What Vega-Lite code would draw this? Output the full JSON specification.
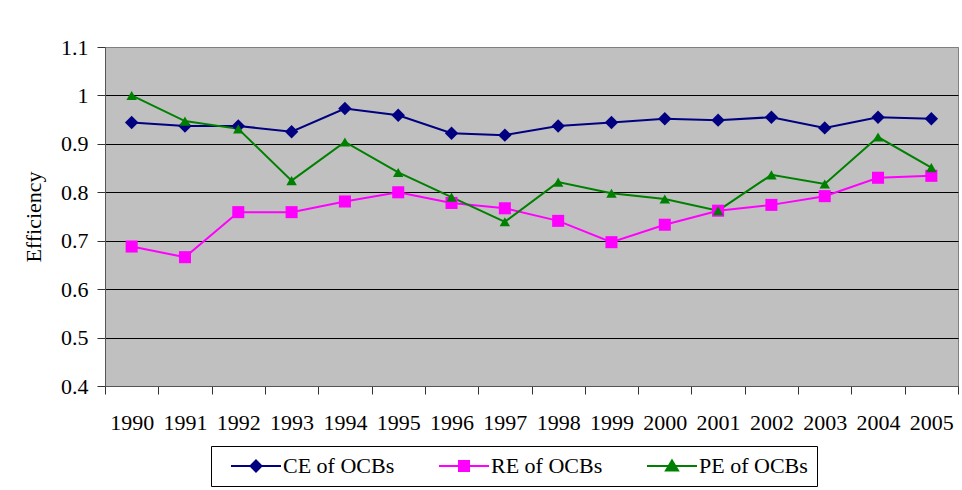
{
  "$schema": "https://vega.github.io/schema/vega-lite/v6.json",
  "width": 853,
  "height": 339,
  "autosize": {"type": "none"},
  "padding": {"left": 105, "top": 47, "right": 4, "bottom": 104},
  "background": "white",
  "config": {
    "view": {"fill": "#C0C0C0", "stroke": "#808080", "strokeWidth": 1},
    "font": "Liberation Serif"
  },
  "data": {
    "values": [
      {"year": "1990", "series": "CE of OCBs", "value": 0.944},
      {"year": "1991", "series": "CE of OCBs", "value": 0.937},
      {"year": "1992", "series": "CE of OCBs", "value": 0.937},
      {"year": "1993", "series": "CE of OCBs", "value": 0.925},
      {"year": "1994", "series": "CE of OCBs", "value": 0.973},
      {"year": "1995", "series": "CE of OCBs", "value": 0.959},
      {"year": "1996", "series": "CE of OCBs", "value": 0.922},
      {"year": "1997", "series": "CE of OCBs", "value": 0.918},
      {"year": "1998", "series": "CE of OCBs", "value": 0.937},
      {"year": "1999", "series": "CE of OCBs", "value": 0.944},
      {"year": "2000", "series": "CE of OCBs", "value": 0.952},
      {"year": "2001", "series": "CE of OCBs", "value": 0.949},
      {"year": "2002", "series": "CE of OCBs", "value": 0.955},
      {"year": "2003", "series": "CE of OCBs", "value": 0.933},
      {"year": "2004", "series": "CE of OCBs", "value": 0.955},
      {"year": "2005", "series": "CE of OCBs", "value": 0.952},
      {"year": "1990", "series": "RE of OCBs", "value": 0.688},
      {"year": "1991", "series": "RE of OCBs", "value": 0.666},
      {"year": "1992", "series": "RE of OCBs", "value": 0.759},
      {"year": "1993", "series": "RE of OCBs", "value": 0.759},
      {"year": "1994", "series": "RE of OCBs", "value": 0.781},
      {"year": "1995", "series": "RE of OCBs", "value": 0.8},
      {"year": "1996", "series": "RE of OCBs", "value": 0.778},
      {"year": "1997", "series": "RE of OCBs", "value": 0.767},
      {"year": "1998", "series": "RE of OCBs", "value": 0.741},
      {"year": "1999", "series": "RE of OCBs", "value": 0.697},
      {"year": "2000", "series": "RE of OCBs", "value": 0.733},
      {"year": "2001", "series": "RE of OCBs", "value": 0.762},
      {"year": "2002", "series": "RE of OCBs", "value": 0.774},
      {"year": "2003", "series": "RE of OCBs", "value": 0.792},
      {"year": "2004", "series": "RE of OCBs", "value": 0.83},
      {"year": "2005", "series": "RE of OCBs", "value": 0.834},
      {"year": "1990", "series": "PE of OCBs", "value": 1.0},
      {"year": "1991", "series": "PE of OCBs", "value": 0.947},
      {"year": "1992", "series": "PE of OCBs", "value": 0.931},
      {"year": "1993", "series": "PE of OCBs", "value": 0.824},
      {"year": "1994", "series": "PE of OCBs", "value": 0.904},
      {"year": "1995", "series": "PE of OCBs", "value": 0.841},
      {"year": "1996", "series": "PE of OCBs", "value": 0.79},
      {"year": "1997", "series": "PE of OCBs", "value": 0.739},
      {"year": "1998", "series": "PE of OCBs", "value": 0.821},
      {"year": "1999", "series": "PE of OCBs", "value": 0.798},
      {"year": "2000", "series": "PE of OCBs", "value": 0.786},
      {"year": "2001", "series": "PE of OCBs", "value": 0.762},
      {"year": "2002", "series": "PE of OCBs", "value": 0.836},
      {"year": "2003", "series": "PE of OCBs", "value": 0.817},
      {"year": "2004", "series": "PE of OCBs", "value": 0.914},
      {"year": "2005", "series": "PE of OCBs", "value": 0.851}
    ]
  },
  "encoding": {
    "x": {
      "field": "year",
      "type": "ordinal",
      "bandPosition": 0.5,
      "scale": {"type": "band", "paddingInner": 0, "paddingOuter": 0},
      "axis": {
        "title": null,
        "labelAngle": 0,
        "labelFont": "Liberation Serif",
        "labelFontSize": 22,
        "labelColor": "black",
        "labelPadding": 18,
        "tickBand": "extent",
        "tickSize": 8,
        "tickColor": "#333333",
        "domainColor": "#555555",
        "grid": false
      }
    },
    "y": {
      "field": "value",
      "type": "quantitative",
      "scale": {"domain": [0.4, 1.1], "nice": false, "zero": false},
      "axis": {
        "title": "Efficiency",
        "titleFont": "Liberation Serif",
        "titleFontSize": 22,
        "titleFontWeight": "normal",
        "titleColor": "black",
        "titlePadding": 15,
        "values": [0.4, 0.5, 0.6, 0.7, 0.8, 0.9, 1, 1.1],
        "format": ".1~f",
        "labelFont": "Liberation Serif",
        "labelFontSize": 22,
        "labelColor": "black",
        "labelPadding": 9,
        "tickSize": 8,
        "tickColor": "#333333",
        "domainColor": "#555555",
        "grid": true,
        "gridColor": {"condition": {"test": "datum.value >= 1.05", "value": "#808080"}, "value": "black"},
        "gridWidth": 1
      }
    }
  },
  "layer": [
    {
      "mark": {"type": "line", "strokeWidth": 2},
      "encoding": {
        "color": {
          "field": "series",
          "type": "nominal",
          "scale": {
            "domain": ["CE of OCBs", "RE of OCBs", "PE of OCBs"],
            "range": ["#000080", "#FF00FF", "#008000"]
          },
          "legend": {
            "title": null,
            "orient": "none",
            "legendX": 106,
            "legendY": 399,
            "direction": "horizontal",
            "strokeColor": "black",
            "fillColor": "white",
            "padding": 9,
            "labelFont": "Liberation Serif",
            "labelFontSize": 22,
            "labelColor": "black",
            "labelOffset": 16,
            "symbolOffset": 25,
            "columnPadding": 33,
            "symbolSize": 400,
            "symbolStrokeWidth": 2,
            "encode": {
              "symbols": {
                "update": {
                  "shape": {"signal": "datum.value === 'CE of OCBs' ? 'M-2.5,0L2.5,0M0,-0.55L0.55,0L0,0.55L-0.55,0Z' : datum.value === 'RE of OCBs' ? 'M-2.5,0L2.5,0M-0.5,-0.5L0.5,-0.5L0.5,0.5L-0.5,0.5Z' : 'M-2.5,0L2.5,0M0,-0.55L0.6,0.45L-0.6,0.45Z'"},
                  "fill": {"signal": "datum.value === 'CE of OCBs' ? '#000080' : datum.value === 'RE of OCBs' ? '#FF00FF' : '#008000'"}
                }
              }
            }
          }
        }
      }
    },
    {
      "mark": {"type": "point", "filled": true, "opacity": 1},
      "encoding": {
        "color": {
          "field": "series",
          "type": "nominal",
          "scale": {
            "domain": ["CE of OCBs", "RE of OCBs", "PE of OCBs"],
            "range": ["#000080", "#FF00FF", "#008000"]
          },
          "legend": null
        },
        "shape": {
          "field": "series",
          "type": "nominal",
          "scale": {
            "domain": ["CE of OCBs", "RE of OCBs", "PE of OCBs"],
            "range": ["diamond", "square", "triangle-up"]
          },
          "legend": null
        },
        "size": {
          "field": "series",
          "type": "nominal",
          "scale": {
            "domain": ["CE of OCBs", "RE of OCBs", "PE of OCBs"],
            "range": [180, 110, 260]
          },
          "legend": null
        }
      }
    }
  ],
  "resolve": {"legend": {"color": "independent", "shape": "independent", "size": "independent"}}
}
